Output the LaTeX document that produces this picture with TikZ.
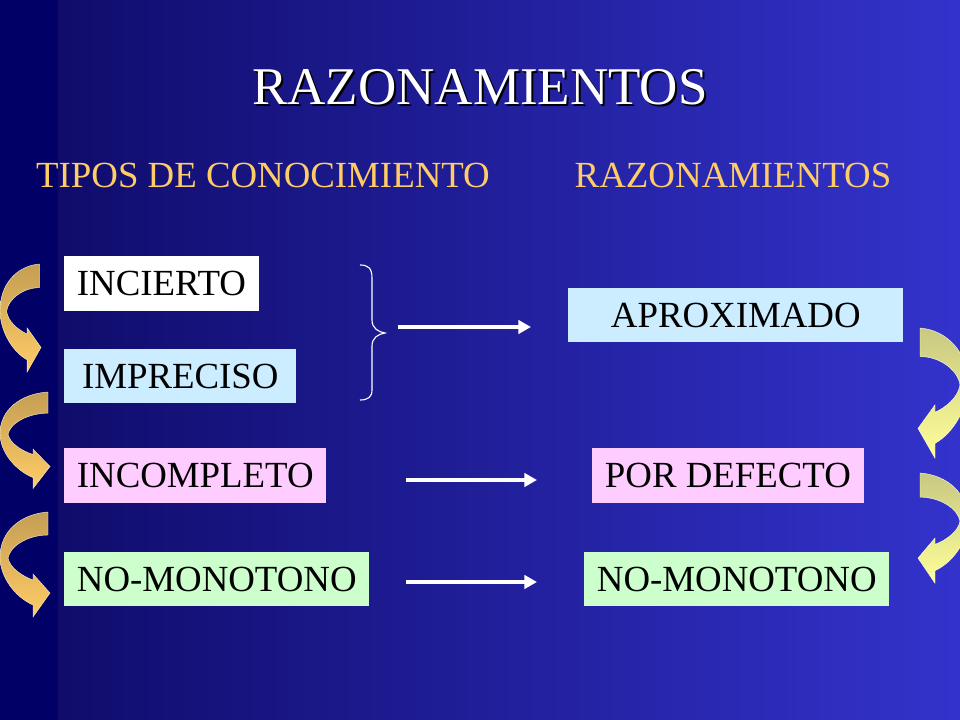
\documentclass[tikz,border=0pt]{standalone}
\usepackage{xcolor}
\usepackage{tikz}
\usetikzlibrary{arrows.meta}
\usetikzlibrary{positioning}
\usepackage{fontspec}
\setmainfont{Liberation Serif}

\definecolor{fondoizq}{RGB}{0,0,102}
\definecolor{fondoa}{RGB}{16,12,108}
\definecolor{fondob}{RGB}{51,51,204}
\definecolor{naranja}{RGB}{255,204,102}
\definecolor{tostado}{RGB}{196,158,84}
\definecolor{oliva}{RGB}{200,200,130}
\definecolor{amarillo}{RGB}{255,255,153}
\definecolor{celeste}{RGB}{204,236,255}
\definecolor{rosa}{RGB}{255,204,255}
\definecolor{verde}{RGB}{204,255,204}

\tikzset{
  caja/.style={anchor=west, text=black, minimum height=1.35cm, inner xsep=9pt,
    font=\fontsize{26.2}{28}\selectfont},
  subtitulo/.style={text=naranja, font=\fontsize{26.2}{28}\selectfont},
  flecha/.style={white, line width=2.8pt, -{Triangle[length=9pt,width=9.5pt]}},
  pics/curva/.style 2 args={code={
    \path[draw=white!60!#2, line width=0.3pt, top color=#1, bottom color=#2]
      (48,0) .. controls (20,2) and (0,20) .. (0,45)
      .. controls (0,65) and (15,85) .. (33,93)
      -- (33,105) -- (50,81) -- (33,62) -- (33,68)
      .. controls (22,64) and (10,56) .. (8,46)
      .. controls (10,34) and (28,23) .. (48,23) -- cycle;
  }},
}

\begin{document}
\begin{tikzpicture}[x=0.025cm, y=-0.025cm]
        \useasboundingbox (0,0) rectangle (960,720);

        % Fondo
        \fill[fondoizq] (0,0) rectangle (58,720);
        \shade[left color=fondoa, right color=fondob] (58,0) rectangle (960,720);

        % Titulo
        \node[text=black, font=\fontsize{37.7}{40}\selectfont] (sombra) at (482,89) {RAZONAMIENTOS};
        \node[text=white, font=\fontsize{37.7}{40}\selectfont] (titulo) at (480,87) {RAZONAMIENTOS};

        % Columnas
        \node[subtitulo] (tipos) at (263,175) {TIPOS DE CONOCIMIENTO};
        \node[subtitulo] (razon) at (733,175) {RAZONAMIENTOS};

        % Tipos de conocimiento
        \node[caja, fill=white] (incierto) at (64,283.5) {INCIERTO};
        \node[caja, fill=celeste, minimum width=5.8cm] (impreciso) at (64,376) {IMPRECISO};
        \node[caja, fill=rosa] (incompleto) at (64,475.5) {INCOMPLETO};
        \node[caja, fill=verde] (nomonoA) at (64,579) {NO-MONOTONO};

        % Razonamientos
        \node[caja, fill=celeste, minimum width=8.375cm] (aprox) at (568,315) {APROXIMADO};
        \node[caja, fill=rosa] (defecto) at (592,475.5) {POR DEFECTO};
        \node[caja, fill=verde] (nomonoB) at (584,579) {NO-MONOTONO};

        % Llave
        \draw[white, line width=0.8pt] (360,265) .. controls (368,265) and (372,268) .. (372,278)
          -- (372,320) .. controls (372,328) and (378,332) .. (385,333)
          .. controls (378,334) and (372,338) .. (372,346)
          -- (372,390) .. controls (372,397) and (368,400) .. (360,400);

        % Flechas
        \coordinate (a1) at (398,327);
        \coordinate (b1) at (531,327);
        \coordinate (a2) at (406,480);
        \coordinate (b2) at (537,480);
        \coordinate (a3) at (406,582);
        \coordinate (b3) at (537,582);
        \draw[flecha] (a1) -- (b1);
        \draw[flecha] (a2) -- (b2);
        \draw[flecha] (a3) -- (b3);

        % Flechas curvas
        \pic[xscale=0.82, yscale=1.03] at (0,264) {curva={tostado}{naranja}};
        \pic[yscale=0.92] at (0,392) {curva={tostado}{naranja}};
        \pic at (0,512) {curva={tostado}{naranja}};
        \pic[xscale=-1, yscale=1.24] at (968,328) {curva={oliva}{amarillo}};
        \pic[xscale=-1, yscale=1.05] at (968,473) {curva={oliva}{amarillo}};
    \end{tikzpicture}
\end{document}
